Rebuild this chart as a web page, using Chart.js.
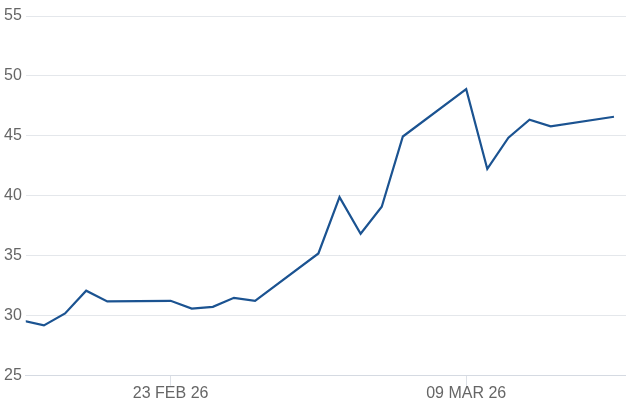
<!DOCTYPE html>
<html>
<head>
<meta charset="utf-8">
<script src="https://cdn.jsdelivr.net/npm/chart.js@4.4.1/dist/chart.umd.min.js"></script>
<style>
  html, body { margin: 0; padding: 0; background: #fff; }
  #wrap { width: 626px; height: 417px; }
</style>
</head>
<body>
<div id="wrap"><canvas id="myChart"></canvas></div>
<script>
// trading days and closing values
var dates = ['2026-02-16','2026-02-17','2026-02-18','2026-02-19','2026-02-20',
             '2026-02-23','2026-02-24','2026-02-25','2026-02-26','2026-02-27',
             '2026-03-02','2026-03-03','2026-03-04','2026-03-05','2026-03-06',
             '2026-03-09','2026-03-10','2026-03-11','2026-03-12','2026-03-13',
             '2026-03-16'];
var values = [29.6, 29.2, 30.2, 32.1, 31.2,
              31.25, 30.6, 30.75, 31.5, 31.25,
              35.2, 39.9, 36.85, 39.1, 44.95,
              48.9, 42.25, 44.85, 46.35, 45.8,
              46.6];
var xTickDates = ['2026-02-23', '2026-03-09'];
var yTicks = [25, 30, 35, 40, 45, 50, 55];

var MONTHS = ['JAN','FEB','MAR','APR','MAY','JUN','JUL','AUG','SEP','OCT','NOV','DEC'];

function dayNum(s) {
    var p = s.split('-');
    return Date.UTC(+p[0], +p[1] - 1, +p[2]) / 86400000;
}
function dayLabel(n) {
    var d = new Date(Math.round(n) * 86400000);
    var dd = ('0' + d.getUTCDate()).slice(-2);
    return dd + ' ' + MONTHS[d.getUTCMonth()] + ' ' + String(d.getUTCFullYear()).slice(-2);
}

var points = dates.map(function (d, i) { return { x: dayNum(d), y: values[i] }; });
var xTicks = xTickDates.map(dayNum);

var ctx = document.getElementById('myChart').getContext('2d');
var myChart = new Chart(ctx, {
    type: 'line',
    data: {
        datasets: [{
            data: points,
            borderColor: '#1b5391',
            borderWidth: 2.2,
            pointRadius: 0,
            tension: 0,
            fill: false
        }]
    },
    options: {
        responsive: true,
        maintainAspectRatio: false,
        animation: false,
        layout: { padding: { top: 16, left: 0, right: 0, bottom: 16 } },
        plugins: { legend: { display: false }, tooltip: { enabled: false } },
        scales: {
            x: {
                type: 'linear',
                min: dayNum('2026-02-16') + 0.14,
                max: dayNum('2026-03-09') + 7.57,
                afterBuildTicks: function (axis) {
                    axis.ticks = xTicks.map(function (v) { return { value: v }; });
                },
                ticks: {
                    callback: function (v) { return dayLabel(v); },
                    color: '#666',
                    font: { family: 'Liberation Sans', size: 16 },
                    padding: -2,
                    maxRotation: 0
                },
                grid: {
                    drawOnChartArea: false,
                    drawTicks: true,
                    tickLength: 10,
                    color: '#dde1e7'
                },
                border: { display: true, color: '#d5dae2', width: 1 }
            },
            y: {
                min: 25,
                max: 55,
                afterBuildTicks: function (axis) {
                    axis.ticks = yTicks.map(function (v) { return { value: v }; });
                },
                ticks: {
                    color: '#666',
                    font: { family: 'Liberation Sans', size: 16 },
                    padding: 4
                },
                grid: { drawTicks: false, color: '#e4e7eb' },
                border: { display: false }
            }
        }
    }
});
</script>
</body>
</html>
